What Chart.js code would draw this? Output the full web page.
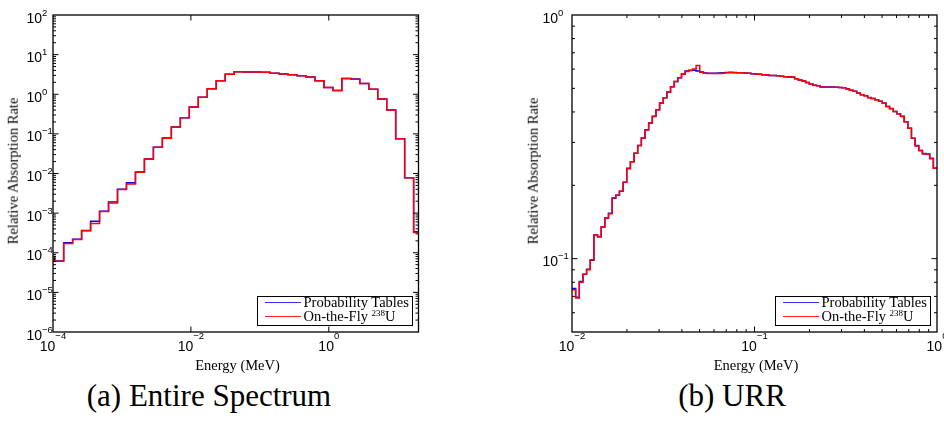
<!DOCTYPE html>
<html>
<head>
<meta charset="utf-8">
<script src="https://cdn.jsdelivr.net/npm/chart.js@4.4.1/dist/chart.umd.min.js"></script>
<style>
  body { margin: 0; width: 944px; height: 425px; background: #fff; position: relative; overflow: hidden; }
  canvas { position: absolute; top: 0; }
  .txt { position: absolute; font-family: "Liberation Serif", "Times New Roman", serif; color: #000; white-space: nowrap; line-height: 1; }
  .small { font-size: 14.5px; }
  .ytitle { transform: translate(-50%, -50%) rotate(-90deg); }
  .caption { font-size: 31px; transform: translateX(-50%); }
  .legend { position: absolute; box-sizing: border-box; width: 156px; height: 30px; border: 1.5px solid #000; background: #fff; }
  .legend .sample { position: absolute; left: 6.5px; width: 36px; height: 1.5px; }
  .legend .txt { left: 45.5px; font-size: 14.5px; }
  .legend sup { font-size: 9px; vertical-align: 5px; line-height: 0; }
</style>
</head>
<body>
<canvas id="specChart" width="472" height="372" style="left:0"></canvas>
<canvas id="urrChart" width="472" height="372" style="left:472px"></canvas>
<div id="labels"></div>

<script>
// ---------- Data: (a) entire spectrum ----------
const specEdges = [7.84e-5, 1.058e-4, 1.428e-4, 1.927e-4, 2.600e-4, 3.509e-4, 4.735e-4, 6.389e-4, 8.621e-4,
  1.163e-3, 1.570e-3, 2.118e-3, 2.858e-3, 3.857e-3, 5.205e-3, 7.023e-3, 9.480e-3, 1.279e-2, 1.726e-2,
  2.329e-2, 3.143e-2, 4.241e-2, 5.723e-2, 7.722e-2, 0.1042, 0.1406, 0.1898, 0.2561, 0.3456, 0.4664,
  0.6293, 0.8492, 1.146, 1.546, 2.087, 2.816, 3.800, 5.128, 6.920, 9.338, 12.60, 17.00, 20];
const specPT = [8.0e-5, 6.2e-5, 1.80e-4, 2.20e-4, 3.62e-4, 6.2e-4, 1.12e-3, 1.90e-3, 4.0e-3, 5.8e-3,
  1.09e-2, 2.33e-2, 4.6e-2, 7.9e-2, 0.15, 0.255, 0.475, 0.84, 1.37, 2.2, 3.2, 3.70, 3.65, 3.62, 3.60,
  3.37, 3.25, 3.11, 2.95, 2.72, 2.19, 1.49, 1.25, 2.51, 2.41, 1.88, 1.33, 0.757, 0.40, 0.075, 7.8e-3, 3.4e-4];
const specOTF = [6.3e-5, 6.1e-5, 1.72e-4, 2.17e-4, 3.57e-4, 5.5e-4, 1.10e-3, 1.79e-3, 3.97e-3, 5.4e-3,
  1.08e-2, 2.31e-2, 4.6e-2, 7.8e-2, 0.15, 0.255, 0.475, 0.84, 1.37, 2.2, 3.2, 3.70, 3.64, 3.62, 3.60,
  3.37, 3.24, 3.11, 2.94, 2.72, 2.19, 1.49, 1.25, 2.51, 2.40, 1.88, 1.33, 0.757, 0.40, 0.075, 7.8e-3, 3.25e-4];

// ---------- Data: (b) URR ----------
const urrEdges = [0.01, 0.010471, 0.010965, 0.011482, 0.012023, 0.012589, 0.013183, 0.013804, 0.014454, 0.015136,
  0.015849, 0.016596, 0.017378, 0.018197, 0.019055, 0.019953, 0.020893, 0.021878, 0.022909, 0.023988,
  0.025119, 0.026303, 0.027542, 0.02884, 0.0302, 0.031623, 0.033113, 0.034674, 0.036308, 0.038019,
  0.039811, 0.041687, 0.043652, 0.045709, 0.047863, 0.050119, 0.052481, 0.054954, 0.057544, 0.060256,
  0.063096, 0.066069, 0.069183, 0.072444, 0.075858, 0.079433, 0.083176, 0.087096, 0.091201, 0.095499,
  0.1, 0.10471, 0.10965, 0.11482, 0.12023, 0.12589, 0.13183, 0.13804, 0.14454, 0.15136,
  0.15849, 0.16596, 0.17378, 0.18197, 0.19055, 0.19953, 0.20893, 0.21878, 0.22909, 0.23988,
  0.25119, 0.26303, 0.27542, 0.2884, 0.302, 0.31623, 0.33113, 0.34674, 0.36308, 0.38019,
  0.39811, 0.41687, 0.43652, 0.45709, 0.47863, 0.50119, 0.52481, 0.54954, 0.57544, 0.60256,
  0.63096, 0.66069, 0.69183, 0.72444, 0.75858, 0.79433, 0.83176, 0.87096, 0.91201, 0.95499, 1.0];
const urrPT = [0.0755, 0.0695, 0.0805, 0.0862, 0.0905, 0.0985, 0.125, 0.1232, 0.1348, 0.147,
  0.1535, 0.177, 0.182, 0.189, 0.206, 0.235, 0.250, 0.271, 0.291, 0.313,
  0.338, 0.360, 0.384, 0.408, 0.435, 0.458, 0.483, 0.508, 0.533, 0.553,
  0.573, 0.589, 0.592, 0.593, 0.589, 0.583, 0.578, 0.576, 0.576, 0.577,
  0.578, 0.580, 0.581, 0.582, 0.581, 0.580, 0.579, 0.578, 0.576, 0.574,
  0.573, 0.571, 0.569, 0.567, 0.565, 0.564, 0.563, 0.560, 0.558, 0.556,
  0.555, 0.548, 0.541, 0.536, 0.528, 0.521, 0.515, 0.512, 0.507, 0.506,
  0.506, 0.506, 0.505, 0.504, 0.503, 0.498, 0.491, 0.487, 0.478, 0.471,
  0.466, 0.459, 0.454, 0.449, 0.443, 0.435, 0.421, 0.413, 0.402, 0.393,
  0.384, 0.365, 0.343, 0.312, 0.291, 0.278, 0.270, 0.269, 0.258, 0.235];
const urrOTF = [0.0746, 0.069, 0.080, 0.0862, 0.090, 0.099, 0.125, 0.1227, 0.1348, 0.147,
  0.153, 0.178, 0.182, 0.189, 0.206, 0.234, 0.250, 0.271, 0.291, 0.313,
  0.337, 0.360, 0.383, 0.408, 0.435, 0.458, 0.482, 0.508, 0.533, 0.553,
  0.571, 0.586, 0.593, 0.601, 0.620, 0.582, 0.577, 0.575, 0.575, 0.575,
  0.575, 0.577, 0.579, 0.580, 0.580, 0.580, 0.579, 0.578, 0.576, 0.574,
  0.573, 0.571, 0.569, 0.567, 0.565, 0.564, 0.563, 0.560, 0.558, 0.556,
  0.556, 0.548, 0.541, 0.536, 0.528, 0.521, 0.515, 0.512, 0.507, 0.505,
  0.505, 0.505, 0.505, 0.504, 0.503, 0.497, 0.491, 0.487, 0.477, 0.471,
  0.466, 0.458, 0.454, 0.449, 0.443, 0.434, 0.421, 0.412, 0.402, 0.393,
  0.383, 0.365, 0.343, 0.312, 0.290, 0.278, 0.269, 0.269, 0.257, 0.235];

// ---------- Ticks ----------
const specXTicks = [1e-4, 1e-2, 1];
const specXExp = ["\u22124", "\u22122", "0"];
const specYTicks = [1e-6, 1e-5, 1e-4, 1e-3, 1e-2, 1e-1, 1, 10, 100];
const specYExp = ["\u22126", "\u22125", "\u22124", "\u22123", "\u22122", "\u22121", "0", "1", "2"];
const urrXTicks = [0.01, 0.1, 1];
const urrXExp = ["\u22122", "\u22121", "0"];
const urrYTicks = [0.1, 1];
const urrYExp = ["\u22121", "0"];

const SANS = "'Liberation Sans', Arial, sans-serif";

// ---------- Helpers ----------
function histPoints(edges, values) {
  const pts = values.map((v, i) => ({ x: edges[i], y: v }));
  pts.push({ x: edges[edges.length - 1], y: values[values.length - 1] });
  return pts;
}

// 2..9 x 10^e minor tick values
function minors(loExp, hiExp) {
  let out = [];
  for (let e = loExp; e < hiExp; e++) {
    for (let m = 2; m <= 9; m++) out.push(m * Math.pow(10, e));
  }
  return out;
}

// matlab-ish box: inward ticks on all sides + 10^n labels
const matlabAxes = {
  id: "matlabAxes",
  afterDatasetsDraw(chart, args, o) {
    const { ctx, chartArea: a } = chart;
    const xs = chart.scales.x, ys = chart.scales.y;
    ctx.save();
    ctx.strokeStyle = "#000";
    ctx.lineWidth = 1;
    ctx.beginPath();
    const xTicks = (vals, len) => vals.forEach(v => {
      const px = xs.getPixelForValue(v);
      if (px <= a.left + 0.5 || px >= a.right - 0.5) return;
      ctx.moveTo(px, a.bottom); ctx.lineTo(px, a.bottom - len);
      ctx.moveTo(px, a.top); ctx.lineTo(px, a.top + len);
    });
    const yTicks = (vals, len) => vals.forEach(v => {
      const py = ys.getPixelForValue(v);
      if (py <= a.top + 0.5 || py >= a.bottom - 0.5) return;
      ctx.moveTo(a.left, py); ctx.lineTo(a.left + len, py);
      ctx.moveTo(a.right, py); ctx.lineTo(a.right - len, py);
    });
    xTicks(o.xMinor, 3); xTicks(o.xMajor, 5.5);
    yTicks(o.yMinor, 3); yTicks(o.yMajor, 5.5);
    ctx.stroke();

    ctx.lineWidth = 1.3;
    ctx.strokeRect(a.left, a.top, a.right - a.left, a.bottom - a.top);

    ctx.fillStyle = "#000";
    ctx.textBaseline = "alphabetic";
    const base = "14px " + SANS, sup = "9.5px " + SANS;
    o.xMajor.forEach((v, i) => {
      const px = xs.getPixelForValue(v);
      ctx.font = base; const w1 = ctx.measureText("10").width;
      ctx.font = sup; const w2 = ctx.measureText(o.xExp[i]).width;
      const x0 = px - (w1 + w2) / 2;
      ctx.textAlign = "left";
      ctx.font = base; ctx.fillText("10", x0, a.bottom + 18.5);
      ctx.font = sup; ctx.fillText(o.xExp[i], x0 + w1, a.bottom + 7);
    });
    o.yMajor.forEach((v, i) => {
      const py = ys.getPixelForValue(v);
      const xr = a.left - o.yGap;
      ctx.font = base; ctx.textAlign = "right"; ctx.fillText("10", xr, py + 7.5);
      ctx.font = sup; ctx.textAlign = "left"; ctx.fillText(o.yExp[i], xr, py + 0.5);
    });
    ctx.restore();
  }
};

function makeChart(canvasId, edges, pt, otf, xRange, yRange, axes) {
  let ctx = document.getElementById(canvasId).getContext("2d");
  return new Chart(ctx, {
    type: "line",
    data: {
      datasets: [
        { label: "On-the-Fly 238U", data: histPoints(edges, otf), borderColor: "#ff0000", order: 0 },
        { label: "Probability Tables", data: histPoints(edges, pt), borderColor: "#0000ff", order: 1 }
      ].map(d => Object.assign(d, { stepped: true, borderWidth: 1.5, pointRadius: 0, fill: false, clip: 0 }))
    },
    options: {
      responsive: false,
      animation: false,
      events: [],
      layout: { padding: axes.pad },
      scales: {
        x: { type: "logarithmic", min: xRange[0], max: xRange[1], display: false },
        y: { type: "logarithmic", min: yRange[0], max: yRange[1], display: false }
      },
      plugins: { legend: { display: false }, tooltip: { enabled: false }, matlabAxes: axes }
    },
    plugins: [matlabAxes]
  });
}

makeChart("specChart", specEdges, specPT, specOTF, [1e-4, 20], [1e-6, 100], {
  pad: { left: 53, top: 15, right: 53.5, bottom: 40 },
  xMajor: specXTicks, xExp: specXExp, xMinor: [],
  yMajor: specYTicks, yExp: specYExp, yMinor: minors(-6, 2),
  yGap: 11
});

makeChart("urrChart", urrEdges, urrPT, urrOTF, [0.01, 1], [0.05, 1], {
  pad: { left: 100, top: 15, right: 7, bottom: 40 },
  xMajor: urrXTicks, xExp: urrXExp, xMinor: minors(-2, 0),
  yMajor: urrYTicks, yExp: urrYExp, yMinor: minors(-2, 0),
  yGap: 14
});

// ---------- Text: titles, legends, captions ----------
function legendHTML(left, top) {
  return `<div class="legend" style="left:${left}px;top:${top}px">
    <div class="sample" style="top:4.75px;background:#3030ff"></div>
    <div class="txt" style="top:-2.5px">Probability Tables</div>
    <div class="sample" style="top:18.75px;background:#ff2020"></div>
    <div class="txt" style="top:11.5px">On-the-Fly <sup>238</sup>U</div>
  </div>`;
}

document.getElementById("labels").innerHTML = `
  <div class="txt small" style="left:237.5px;top:357.5px;transform:translateX(-50%)">Energy (MeV)</div>
  <div class="txt small" style="left:756px;top:357.5px;transform:translateX(-50%)">Energy (MeV)</div>
  <div class="txt small ytitle" style="left:13px;top:171px">Relative Absorption Rate</div>
  <div class="txt small ytitle" style="left:532.5px;top:171px">Relative Absorption Rate</div>
  ${legendHTML(257, 296)}
  ${legendHTML(775, 296)}
  <div class="txt caption" style="left:209px;top:380px">(a) Entire Spectrum</div>
  <div class="txt caption" style="left:732px;top:380px">(b) URR</div>
`;
</script>
</body>
</html>
